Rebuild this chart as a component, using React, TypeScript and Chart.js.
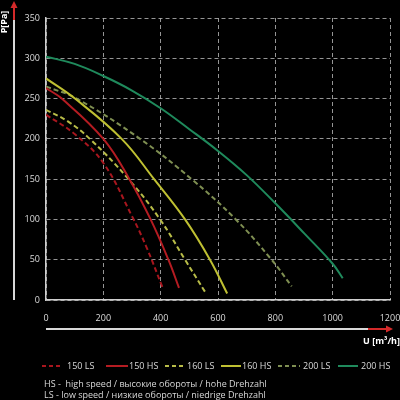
import React, { useEffect, useRef } from "react";
import { Chart, registerables } from "chart.js";

Chart.register(...registerables);

const xTicks = [0, 200, 400, 600, 800, 1000, 1200];
const yTicks = [0, 50, 100, 150, 200, 250, 300, 350];

const seriesLabels = ["150 LS", "150 HS", "160 LS", "160 HS", "200 LS", "200 HS"];

const x150LS = [0, 100, 200, 300, 350, 406];
const y150LS = [230, 206, 170, 104, 66, 16];

const x150HS = [0, 55, 200, 291, 365, 427, 464];
const y150HS = [263, 250, 200, 150, 100, 50, 15];

const x160LS = [0, 75, 153, 288, 398, 485, 555];
const y160LS = [236, 222, 200, 150, 100, 50, 10];

const x160HS = [0, 101, 264, 377, 485, 572, 632];
const y160HS = [275, 250, 200, 150, 100, 50, 8];

const x200LS = [0, 107, 328, 508, 662, 787, 857];
const y200LS = [265, 250, 200, 150, 100, 50, 17];

const x200HS = [0, 100, 200, 300, 400, 500, 600, 700, 800, 900, 1000, 1035];
const y200HS = [302, 293, 278, 260, 238, 212, 185, 155, 120, 83, 45, 27];

const noteLines = [
  "HS -  high speed / высокие обороты / hohe Drehzahl",
  "LS - low speed / низкие обороты / niedrige Drehzahl",
];

const FONT = "'Open Sans', 'DejaVu Sans', sans-serif";

const pts = (xs: number[], ys: number[]) => xs.map((x, i) => ({ x, y: ys[i] }));

const styles = [
  { color: "#a8161e", dash: [5, 3] },
  { color: "#b51c22", dash: [] as number[] },
  { color: "#b8bc48", dash: [5, 3] },
  { color: "#bfc032", dash: [] as number[] },
  { color: "#7f8f52", dash: [5, 3] },
  { color: "#1f8a5c", dash: [] as number[] },
];

const legendLayout = [
  { x0: 42, x1: 62, tx: 67 },
  { x0: 106, x1: 128, tx: 129 },
  { x0: 165, x1: 185, tx: 187 },
  { x0: 221, x1: 241, tx: 242 },
  { x0: 278, x1: 300, tx: 303 },
  { x0: 338, x1: 358, tx: 361 },
];

const decorPlugin = {
  id: "decor",
  afterDraw(chart: any) {
    const ctx = chart.ctx as CanvasRenderingContext2D;
    const area = chart.chartArea;
    ctx.save();
    ctx.lineWidth = 2;
    ctx.strokeStyle = "#d8d8d8";
    ctx.beginPath();
    ctx.moveTo(14, area.bottom);
    ctx.lineTo(14, 20);
    ctx.stroke();
    ctx.strokeStyle = "#d42a2a";
    ctx.beginPath();
    ctx.moveTo(14, 20);
    ctx.lineTo(14, 5);
    ctx.stroke();
    ctx.fillStyle = "#d42a2a";
    ctx.beginPath();
    ctx.moveTo(14, 1);
    ctx.lineTo(10.5, 8);
    ctx.lineTo(17.5, 8);
    ctx.closePath();
    ctx.fill();
    const ay = 329;
    ctx.strokeStyle = "#d8d8d8";
    ctx.beginPath();
    ctx.moveTo(area.left, ay);
    ctx.lineTo(368, ay);
    ctx.stroke();
    ctx.strokeStyle = "#d42a2a";
    ctx.beginPath();
    ctx.moveTo(368, ay);
    ctx.lineTo(388, ay);
    ctx.stroke();
    ctx.fillStyle = "#d42a2a";
    ctx.beginPath();
    ctx.moveTo(393, ay);
    ctx.lineTo(386, ay - 3.5);
    ctx.lineTo(386, ay + 3.5);
    ctx.closePath();
    ctx.fill();
    ctx.fillStyle = "#ffffff";
    ctx.font = `bold 9px ${FONT}`;
    ctx.textBaseline = "middle";
    ctx.textAlign = "right";
    ctx.fillText("U [m³/h]", 400, 341);
    ctx.save();
    ctx.translate(4.5, 22);
    ctx.rotate(-Math.PI / 2);
    ctx.textAlign = "center";
    ctx.fillText("P[Pa]", 0, 0);
    ctx.restore();
    const ly = 366;
    ctx.font = `9px ${FONT}`;
    ctx.textAlign = "left";
    ctx.fillStyle = "#d8d8d8";
    seriesLabels.forEach((label, i) => {
      const l = legendLayout[i];
      const s = styles[i];
      ctx.strokeStyle = s.color;
      ctx.lineWidth = 2;
      ctx.setLineDash(s.dash.length ? [4, 3] : []);
      ctx.beginPath();
      ctx.moveTo(l.x0, ly);
      ctx.lineTo(l.x1, ly);
      ctx.stroke();
      ctx.setLineDash([]);
      ctx.fillText(label, l.tx, ly);
    });
    ctx.fillText(noteLines[0], 44, 384);
    ctx.fillText(noteLines[1], 44, 395);
    ctx.restore();
  },
};

export default function App() {
  const ref = useRef<HTMLCanvasElement>(null);
  useEffect(() => {
    if (!ref.current) return;
    const series = [
      pts(x150LS, y150LS),
      pts(x150HS, y150HS),
      pts(x160LS, y160LS),
      pts(x160HS, y160HS),
      pts(x200LS, y200LS),
      pts(x200HS, y200HS),
    ];
    const chart = new Chart(ref.current, {
      type: "line",
      data: {
        datasets: series.map((d, i) => ({
          label: seriesLabels[i],
          data: d,
          borderColor: styles[i].color,
          borderDash: styles[i].dash,
          borderWidth: 2,
          pointRadius: 0,
          fill: false,
          tension: 0.4,
        })),
      },
      options: {
        animation: false,
        responsive: false,
        devicePixelRatio: 1,
        layout: { padding: { top: 18, right: 10, left: 0, bottom: 0 }, autoPadding: false },
        plugins: { legend: { display: false }, tooltip: { enabled: false } },
        scales: {
          x: {
            type: "linear",
            min: 0,
            max: 1200,
            afterBuildTicks: (s: any) => {
              s.ticks = xTicks.map((v) => ({ value: v }));
            },
            afterFit: (s: any) => {
              s.height = 100;
              s.paddingLeft = 0;
              s.paddingRight = 0;
            },
            ticks: {
              color: "#dcdcdc",
              font: { family: FONT, size: 9 },
              padding: 13,
              maxRotation: 0,
              callback: (v: any) => String(v),
            },
            grid: { color: "rgba(175,175,175,0.85)", lineWidth: 1, drawTicks: false },
            border: { color: "#cfcfcf", width: 1.5, dash: [4, 3] },
          },
          y: {
            type: "linear",
            min: 0,
            max: 350,
            afterBuildTicks: (s: any) => {
              s.ticks = yTicks.map((v) => ({ value: v }));
            },
            afterFit: (s: any) => {
              s.width = 46;
              s.paddingTop = 0;
              s.paddingBottom = 0;
            },
            ticks: {
              color: "#dcdcdc",
              font: { family: FONT, size: 9 },
              padding: 6,
              callback: (v: any) => String(v),
            },
            grid: { color: "rgba(175,175,175,0.85)", lineWidth: 1, drawTicks: false },
            border: { color: "#cfcfcf", width: 1.5, dash: [4, 3] },
          },
        },
      },
      plugins: [decorPlugin],
    });
    return () => chart.destroy();
  }, []);
  return (
    <div style={{ position: "fixed", left: 0, top: 0, width: 400, height: 400, background: "#000" }}>
      <canvas ref={ref} width={400} height={400} style={{ display: "block", width: 400, height: 400 }} />
    </div>
  );
}
